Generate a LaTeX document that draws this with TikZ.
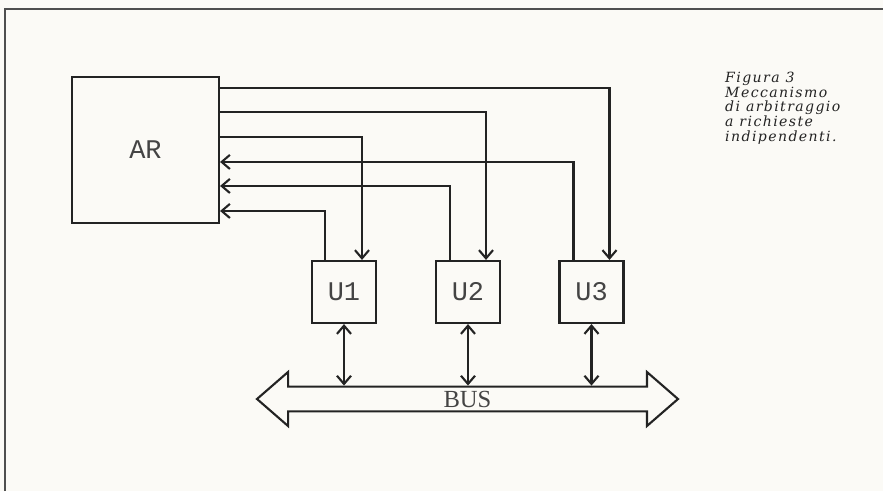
\documentclass[tikz,border=0pt]{standalone}
\usepackage{fontspec}
\setmainfont{Liberation Serif}
\newfontfamily\typefont{Liberation Mono}
\newfontfamily\capfont[LetterSpace=10]{DejaVu Serif}
\usetikzlibrary{arrows.meta,positioning,calc,shapes.arrows}
\definecolor{ink}{RGB}{35,35,35}
\definecolor{paper}{RGB}{251,250,246}
\tikzset{
  unitbox/.style={draw=ink, line width=1.8pt, minimum width=1.92cm, minimum height=1.86cm, inner sep=0pt, font=\typefont\fontsize{23}{23}\selectfont, text=ink!85},
  sig/.style={-{Straight Barb[length=7pt,width=12pt]}, draw=ink, line width=1.8pt},
  busline/.style={{Straight Barb[length=7pt,width=12pt]}-{Straight Barb[length=7pt,width=12pt]}, draw=ink, line width=1.8pt},
}

\begin{document}
\begin{tikzpicture}[x=0.03cm, y=-0.03cm]
  \fill[paper] (0,0) rectangle (883,491);
  \useasboundingbox (0,0) rectangle (883,491);
  % frame
  \draw[ink!80, line width=1.5pt] (5,491) -- (5,9) -- (883,9);
  % arbiter and units
  \node[unitbox, minimum width=4.41cm, minimum height=4.38cm] (ar) at (145.5,150) {AR};
  \node[unitbox] (u1) at (344,292) {U1};
  \node[unitbox] (u2) at (468,292) {U2};
  \node[unitbox] (u3) at (591.5,292) {U3};
  % bus
  \node[double arrow, draw=ink, line width=1.8pt, minimum height=12.63cm, minimum width=1.62cm, double arrow head extend=0.33cm, double arrow tip angle=82, inner sep=0pt, font=\fontsize{21}{21}\selectfont, text=ink!85] (bus) at (467.5,399) {BUS};
  % requests and grants
  \draw[sig] ($(ar.north east)+(0,12)$) -| ($(u3.north)+(18,0)$);
  \draw[sig] ($(ar.north east)+(0,36)$) -| ($(u2.north)+(18,0)$);
  \draw[sig] ($(ar.north east)+(0,61)$) -| ($(u1.north)+(18,0)$);
  \draw[sig] ($(u3.north)+(-18,0)$) |- ($(ar.north east)+(0,86)$);
  \draw[sig] ($(u2.north)+(-18,0)$) |- ($(ar.north east)+(0,110)$);
  \draw[sig] ($(u1.north)+(-19,0)$) |- ($(ar.north east)+(0,135)$);
  % bus links
  \draw[busline] (u1.south) -- (u1.south |- bus.north);
  \draw[busline] (u2.south) -- (u2.south |- bus.north);
  \draw[busline] (u3.south) -- (u3.south |- bus.north);
  % caption
  \node[anchor=north west, align=left, font=\capfont\itshape\fontsize{12}{12.5}\selectfont, text=ink, inner sep=0pt] (cap) at (725,72) {Figura 3\\Meccanismo\\di arbitraggio\\a richieste\\indipendenti.};
\end{tikzpicture}
\end{document}
